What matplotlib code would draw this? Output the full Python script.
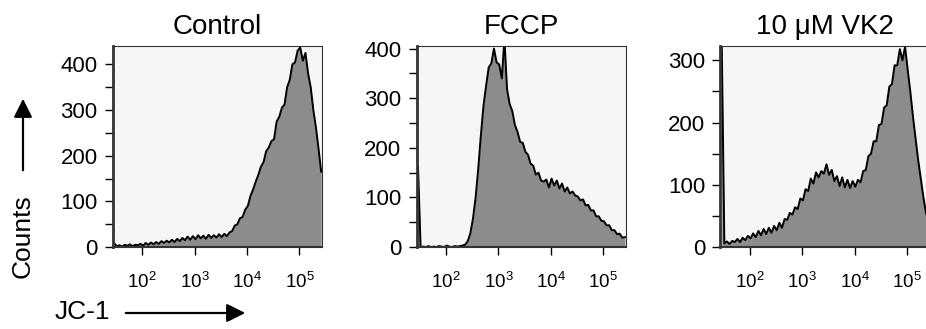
import matplotlib.pyplot as plt
import numpy as np
from matplotlib.patches import FancyArrowPatch

plt.rcParams['font.family'] = ['Liberation Sans', 'DejaVu Sans']
plt.rcParams['mathtext.fontset'] = 'custom'
plt.rcParams['mathtext.rm'] = 'Liberation Sans'
plt.rcParams['mathtext.it'] = 'Liberation Sans'

# histogram channels: log10 positions, 0.05 decade apart
log_start = 1.465
log_step = 0.05

titles = ['Control', 'FCCP', '10 \u03bcM VK2']
ymax = [440, 405, 323]
ytick_step = 100

control = [8, 2, 4, 1, 5, 3, 6, 2, 5, 4,
           7, 3, 9, 5, 10, 6, 11, 7, 13, 9,
           14, 10, 16, 11, 18, 13, 20, 15, 23, 16,
           24, 17, 26, 19, 25, 18, 27, 20, 26, 21,
           28, 22, 29, 24, 32, 35, 47, 50, 63, 66,
           82, 90, 112, 126, 143, 158, 176, 186, 210, 218,
           232, 236, 275, 285, 305, 312, 350, 366, 400, 404,
           430, 437, 408, 425, 380, 350, 300, 262, 215, 165]

fccp = [163, 0, 1, 0, 2, 0, 1, 0, 2, 1,
        0, 3, 1, 0, 2, 1, 2, 3, 5, 12,
        28, 58, 100, 158, 225, 285, 325, 362, 370, 400,
        372, 368, 340, 420, 318, 288, 274, 246, 232, 212,
        210, 192, 186, 168, 164, 146, 150, 134, 132, 136,
        120, 138, 124, 134, 118, 128, 112, 120, 108, 112,
        104, 102, 94, 96, 84, 85, 74, 74, 62, 62,
        53, 52, 44, 44, 34, 34, 26, 27, 19, 20]

vk2 = [330, 6, 9, 5, 10, 8, 13, 8, 15, 11,
       18, 14, 22, 16, 26, 19, 29, 21, 31, 23,
       34, 27, 39, 31, 45, 44, 55, 52, 64, 61,
       78, 75, 93, 90, 110, 102, 120, 112, 122, 118,
       133, 116, 124, 106, 114, 98, 112, 96, 108, 95,
       106, 97, 108, 104, 122, 124, 146, 150, 170, 170,
       196, 198, 224, 228, 258, 262, 292, 292, 318, 300,
       322, 285, 250, 210, 175, 140, 110, 80, 55, 40]

series = [control, fccp, vk2]

fill_col = '#8c8c8c'
bg_col = '#f6f6f6'

fig = plt.figure(figsize=(9.26, 3.29), dpi=100)
lefts = [0.122, 0.450, 0.778]
for i in range(3):
    ax = fig.add_axes([lefts[i], 0.249, 0.2257, 0.611])
    counts = np.array(series[i])
    x = 10 ** (log_start + log_step * np.arange(len(counts)))
    ax.set_facecolor(bg_col)
    ax.fill_between(x, counts, 0, color=fill_col, lw=0)
    ax.plot(x, counts, color='black', lw=1.4)
    ax.set_xscale('log')
    ax.set_xlim(10 ** 1.44, 10 ** 5.43)
    ax.set_ylim(0, ymax[i])
    ax.set_xticks([1e2, 1e3, 1e4, 1e5])
    ax.set_xticklabels(['$10^{2}$', '$10^{3}$', '$10^{4}$', '$10^{5}$'])
    ax.set_yticks(np.arange(0, ymax[i], ytick_step))
    ax.set_yticks(np.arange(50, ymax[i], 50), minor=True)
    ax.tick_params(axis='x', which='major', length=6, width=1, pad=12, labelsize=13.5)
    ax.tick_params(axis='x', which='minor', length=4, width=1)
    ax.tick_params(axis='y', which='both', length=6, width=1, pad=5, labelsize=16)
    ax.spines['left'].set_linewidth(2)
    ax.spines['bottom'].set_linewidth(1.5)
    for s in ax.spines.values():
        s.set_color('#333333')
    ax.set_title(titles[i], fontsize=20, pad=9)

fig.text(23 / 926, 1 - 236 / 329, 'Counts', rotation=90, ha='center', va='center', fontsize=19)
fig.text(55 / 926, 1 - 312 / 329, 'JC-1', ha='left', va='center', fontsize=19)
fig.add_artist(FancyArrowPatch(
    (23 / 926, 1 - 173 / 329), (23 / 926, 1 - 96 / 329), transform=fig.transFigure,
    arrowstyle='-|>', mutation_scale=28, color='black', lw=1.6))
fig.add_artist(FancyArrowPatch(
    (123 / 926, 1 - 313 / 329), (248 / 926, 1 - 313 / 329), transform=fig.transFigure,
    arrowstyle='-|>', mutation_scale=28, color='black', lw=1.6))

fig.savefig('out.png', dpi=100)
